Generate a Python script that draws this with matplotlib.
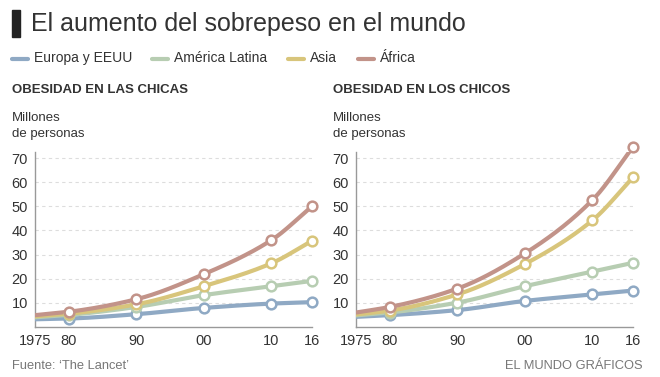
import matplotlib
matplotlib.use("Agg")
import matplotlib.pyplot as plt
from matplotlib.lines import Line2D
import numpy as np

plt.rcParams['font.family'] = ['Liberation Sans', 'DejaVu Sans']

years = [1975, 1980, 1990, 2000, 2010, 2016]
tick_years = [1975, 1980, 1990, 2000, 2010, 2016]
tick_labels = ['1975', '80', '90', '00', '10', '16']
regions = ['Europa y EEUU', 'América Latina', 'Asia', 'África']
colors = ['#8fa9c4', '#b7cdb2', '#d8c57b', '#c29389']

# millones de personas, chicas
girls_europa = [3.2, 3.5, 5.3, 7.9, 9.7, 10.3]
girls_latina = [4.0, 5.0, 8.3, 13.2, 16.9, 19.1]
girls_asia = [4.4, 5.5, 9.4, 16.9, 26.4, 35.7]
girls_africa = [4.9, 6.3, 11.5, 21.9, 36.0, 50.0]

# millones de personas, chicos
boys_europa = [4.2, 4.9, 7.0, 10.8, 13.5, 15.1]
boys_latina = [4.8, 6.0, 10.1, 16.9, 22.9, 26.6]
boys_asia = [5.2, 6.8, 13.5, 26.1, 44.2, 62.0]
boys_africa = [6.0, 8.3, 15.9, 30.5, 52.6, 74.6]


def smooth(x, y, n=200):
    # monotone cubic (Fritsch-Carlson) just to draw the curve
    x = np.asarray(x, float)
    y = np.asarray(y, float)
    h = np.diff(x)
    d = np.diff(y) / h
    m = np.zeros_like(y)
    m[0], m[-1] = d[0], d[-1]
    for i in range(1, len(y) - 1):
        if d[i - 1] * d[i] > 0:
            w1 = 2 * h[i] + h[i - 1]
            w2 = h[i] + 2 * h[i - 1]
            m[i] = (w1 + w2) / (w1 / d[i - 1] + w2 / d[i])
    xs = np.linspace(x[0], x[-1], n)
    idx = np.clip(np.searchsorted(x, xs) - 1, 0, len(x) - 2)
    t = (xs - x[idx]) / h[idx]
    h00 = 2 * t**3 - 3 * t**2 + 1
    h10 = t**3 - 2 * t**2 + t
    h01 = -2 * t**3 + 3 * t**2
    h11 = t**3 - t**2
    ys = h00 * y[idx] + h10 * h[idx] * m[idx] + h01 * y[idx + 1] + h11 * h[idx] * m[idx + 1]
    return xs, ys


fig = plt.figure(figsize=(6.6, 3.77), dpi=100)
W, H = 660, 377

# title
fig.patches.append(plt.Rectangle((12 / W, 1 - 37 / H), 8 / W, 27 / H,
                                 transform=fig.transFigure, color='#222222'))
fig.text(31 / W, 1 - 24 / H, 'El aumento del sobrepeso en el mundo',
         fontsize=18, color='#333333', va='center')

# legend
leg_x = [12, 152, 288, 358]
for x0, name, c in zip(leg_x, regions, colors):
    fig.lines.append(Line2D([x0 / W, (x0 + 16) / W], [1 - 59 / H, 1 - 59 / H],
                            transform=fig.transFigure, color=c, lw=3,
                            solid_capstyle='round'))
    fig.text((x0 + 22) / W, 1 - 58 / H, name, fontsize=10, color='#333333', va='center')

panels = [
    (35, 'OBESIDAD EN LAS CHICAS', [girls_europa, girls_latina, girls_asia, girls_africa]),
    (356, 'OBESIDAD EN LOS CHICOS', [boys_europa, boys_latina, boys_asia, boys_africa]),
]

for left_px, subtitle, series in panels:
    fig.text((left_px - 23) / W, 1 - 90 / H, subtitle, fontsize=9.5,
             fontweight='bold', color='#333333', va='center')
    fig.text((left_px - 23) / W, 1 - 126 / H, 'Millones\nde personas', fontsize=9.5,
             color='#333333', va='center', linespacing=1.45)
    ax = fig.add_axes([left_px / W, 1 - 327 / H, 277 / W, 175 / H])
    for vals, c in zip(series, colors):
        xs, ys = smooth(years, vals)
        ax.plot(xs, ys, color=c, lw=3, solid_capstyle='round', zorder=3)
        ax.plot(years[1:], vals[1:], 'o', ms=7, mfc='white', mec=c, mew=1.8,
                zorder=4, clip_on=False)
    ax.set_xlim(1975, 2016)
    ax.set_ylim(0, 72.5)
    ax.set_yticks([10, 20, 30, 40, 50, 60, 70])
    ax.set_xticks(tick_years)
    ax.set_xticklabels(tick_labels)
    ax.grid(axis='y', color='#dddddd', ls=(0, (3, 3)), lw=0.8)
    ax.set_axisbelow(True)
    for s in ['top', 'right']:
        ax.spines[s].set_visible(False)
    for s in ['left', 'bottom']:
        ax.spines[s].set_color('#999999')
        ax.spines[s].set_linewidth(1)
    ax.tick_params(length=0, labelsize=10.5, colors='#333333', pad=5)

fig.text(12 / W, 1 - 366 / H, 'Fuente: \u2018The Lancet\u2019', fontsize=9.3,
         color='#777777', va='center')
fig.text(643 / W, 1 - 366 / H, 'EL MUNDO GRÁFICOS', fontsize=9.3,
         color='#777777', va='center', ha='right')

fig.savefig('out.png', dpi=100)
